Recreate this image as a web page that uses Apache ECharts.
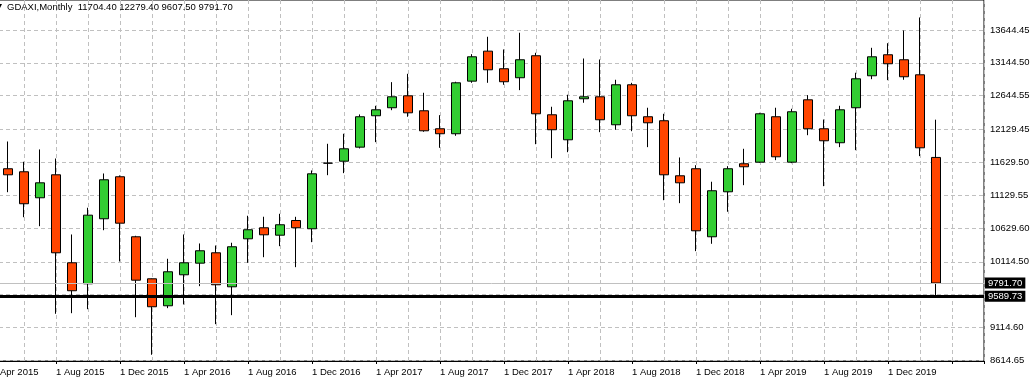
<!DOCTYPE html>
<html>
<head>
<meta charset="utf-8">
<script src="https://cdn.jsdelivr.net/npm/echarts@6/dist/echarts.min.js"></script>
<style>
html,body{margin:0;padding:0;background:#fff;}
#chart{width:1032px;height:383px;}
</style>
</head>
<body>
<div id="chart"></div>
<script>
// ---------- data ----------
const symbolName = 'GDAXI,Monthly';
const months = [
  '2015-05','2015-06','2015-07','2015-08','2015-09','2015-10','2015-11','2015-12',
  '2016-01','2016-02','2016-03','2016-04','2016-05','2016-06','2016-07','2016-08','2016-09','2016-10','2016-11','2016-12',
  '2017-01','2017-02','2017-03','2017-04','2017-05','2017-06','2017-07','2017-08','2017-09','2017-10','2017-11','2017-12',
  '2018-01','2018-02','2018-03','2018-04','2018-05','2018-06','2018-07','2018-08','2018-09','2018-10','2018-11','2018-12',
  '2019-01','2019-02','2019-03','2019-04','2019-05','2019-06','2019-07','2019-08','2019-09','2019-10','2019-11','2019-12',
  '2020-01','2020-02','2020-03'
];
const open = [
  11532,11486,11090,11440,10100,9780,10770,11410,
  10496,9856,9445,9917,10094,10252,9734,10465,10633,10520,10744,10618,
  11617,11647,11861,12339,12461,12643,12415,12141,12065,12866,13323,13055,
  12918,13253,12354,11973,12598,12628,12202,12811,12324,12263,11425,11532,
  10496,11181,11608,11632,12324,11632,12582,12141,11928,12461,12948,13268,
  13192,12963,11704.40
];
const high = [
  11947,11638,11826,11688,10531,10938,11460,11430,
  10511,9860,10161,10531,10394,10363,10405,10816,10801,10846,10800,11506,
  11912,12065,12359,12491,12851,12978,12689,12348,12857,13277,13542,13349,
  13603,13298,12476,12659,13211,13196,12887,12841,12461,12369,11704,11586,
  11334,11571,11836,12384,12461,12445,12653,12282,12491,12994,13374,13444,
  13638,13836,12279.40
];
const low = [
  11175,10794,10657,9323,9332,9393,10596,10120,
  9271,8699,9409,9465,9744,9165,9302,10100,10185,10353,10033,10414,
  11434,11465,11841,11937,12424,12324,12095,11851,12034,12841,12841,12811,
  12729,11906,11693,11784,12537,12089,12126,12104,11861,11053,11008,10277,
  10389,10877,11282,11623,11663,11617,12043,11267,11861,11815,12896,12881,
  12887,11724,9607.50
];
const close = [
  11440,10999,11318,10252,9674,10825,11364,10703,
  9835,9430,9963,10100,10283,9765,10344,10603,10526,10679,10633,11455,
  11617,11836,12324,12430,12628,12384,12110,12065,12841,13237,13039,12857,
  13192,12369,12126,12567,12628,12278,12811,12339,12232,11440,11318,10587,
  11197,11532,11562,12369,11714,12400,12141,11958,12430,12902,13237,13131,
  12933,11851,9791.70
];
const xTickLabels = [
  '1 Apr 2015','1 Aug 2015','1 Dec 2015','1 Apr 2016','1 Aug 2016','1 Dec 2016',
  '1 Apr 2017','1 Aug 2017','1 Dec 2017','1 Apr 2018','1 Aug 2018','1 Dec 2018',
  '1 Apr 2019','1 Aug 2019','1 Dec 2019'
];
const yTickValues = [8614.65, 9114.60, 10114.50, 10629.60, 11129.55, 11629.50, 12129.45, 12644.55, 13144.50, 13644.45];
const yHiddenTickValues = [9614.55];
const levelLine = 9589.73;

// ---------- derived ----------
function monthIndex(s) { const p = s.split('-').map(Number); return (p[0] - 2015) * 12 + (p[1] - 4); }
const candles = months.map((m, i) => [monthIndex(m), open[i], close[i], low[i], high[i]]);
const last = months.length - 1;
const lastClose = close[last];
const header = symbolName + '  ' + [open[last], high[last], low[last], close[last]].map(v => v.toFixed(2)).join(' ');
const yGridValues = yTickValues.concat(yHiddenTickValues).sort((a, b) => a - b);

const font = 'Liberation Sans';
const gridColor = '#c0c0c0';
const xMin = 0, xMax = 62, yMin = 8604, yMax = 14102;

const priceLabel = {
  show: true, position: 'end', distance: 1,
  formatter: p => Number(p.value).toFixed(2),
  backgroundColor: '#000', color: '#fff', padding: [1, 3, 0, 3],
  fontSize: 9.5, fontFamily: font
};

const chart = echarts.init(document.getElementById('chart'), null, { renderer: 'canvas' });
chart.setOption({
  animation: false,
  backgroundColor: '#fff',
  title: [
    { text: '\u25BE', left: -3, top: 1, padding: 0, textStyle: { fontSize: 10, color: '#000', fontWeight: 'normal', fontFamily: 'DejaVu Sans' } },
    { text: header, left: 7, top: 2, padding: 0, textStyle: { fontSize: 9.5, color: '#000', fontWeight: 'normal', fontFamily: font } }
  ],
  grid: {
    left: -8, right: 48, top: 0, bottom: 22,
    outerBoundsMode: 'none', containLabel: false,
    show: true, borderColor: '#000', borderWidth: 1, backgroundColor: 'transparent'
  },
  xAxis: [
    {
      type: 'value', position: 'bottom', min: xMin, max: xMax, interval: 2,
      axisLine: { show: false }, axisTick: { show: false }, axisLabel: { show: false },
      splitLine: { show: true, lineStyle: { color: gridColor, width: 1, type: [4, 3] } }
    },
    {
      type: 'value', position: 'bottom', min: xMin, max: xMax, interval: 4,
      axisLine: { show: true, lineStyle: { color: '#000', width: 1 } },
      axisTick: { show: true, length: 3, lineStyle: { color: '#000' } },
      splitLine: { show: false },
      axisLabel: {
        show: true, align: 'left', margin: 6, color: '#000', fontSize: 9.5, fontFamily: font,
        showMinLabel: true, showMaxLabel: true, hideOverlap: false,
        formatter: v => (v % 4 === 0 && xTickLabels[v / 4]) || ''
      }
    }
  ],
  yAxis: {
    type: 'value', position: 'right', min: yMin, max: yMax, scale: true,
    axisLine: { show: true, lineStyle: { color: '#000', width: 1 } },
    axisTick: { show: true, length: 3, customValues: yGridValues, lineStyle: { color: '#000' } },
    axisLabel: { customValues: yTickValues, formatter: v => v.toFixed(2), margin: 6, color: '#000', fontSize: 9.5, fontFamily: font },
    splitLine: { show: true, lineStyle: { color: gridColor, width: 1, type: [4, 3] } }
  },
  series: [{
    type: 'candlestick',
    xAxisIndex: 1,
    data: candles,
    barWidth: 9,
    itemStyle: {
      color: '#32cd32', color0: '#ff4500',
      borderColor: '#000', borderColor0: '#000', borderColorDoji: '#000', borderWidth: 1
    },
    markLine: {
      silent: true, symbol: ['none', 'none'], animation: false,
      data: [
        { yAxis: lastClose, lineStyle: { color: gridColor, width: 1, type: 'solid' }, label: priceLabel },
        { yAxis: levelLine, lineStyle: { color: '#000', width: 3, type: 'solid' }, label: priceLabel }
      ]
    }
  }]
});
</script>
</body>
</html>
